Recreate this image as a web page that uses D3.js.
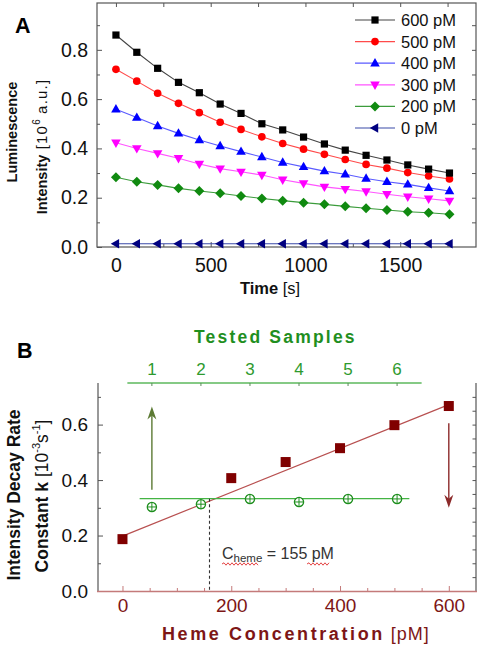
<!DOCTYPE html>
<html><head><meta charset="utf-8">
<script src="https://cdn.jsdelivr.net/npm/d3@7"></script>
<style>
body{margin:0;background:#fff;}
svg{display:block;font-family:"Liberation Sans",Arial,sans-serif;}
</style></head>
<body><svg id="c" width="478" height="645"></svg>
<script>
// ---------- Panel A data ----------
const times = [0,110,220,330,440,550,660,770,880,990,1100,1210,1320,1430,1540,1650,1760];
const seriesNames = ["600 pM","500 pM","400 pM","300 pM","200 pM","0 pM"];
const s600 = [0.86,0.79,0.725,0.668,0.626,0.58,0.542,0.50,0.475,0.446,0.418,0.393,0.372,0.353,0.333,0.316,0.30];
const s500 = [0.721,0.673,0.624,0.583,0.545,0.506,0.477,0.447,0.42,0.397,0.376,0.355,0.335,0.32,0.302,0.288,0.276];
const s400 = [0.559,0.525,0.491,0.461,0.434,0.41,0.387,0.365,0.343,0.325,0.308,0.295,0.278,0.265,0.254,0.24,0.227];
const s300 = [0.423,0.40,0.38,0.36,0.337,0.318,0.305,0.292,0.273,0.258,0.244,0.235,0.225,0.214,0.204,0.196,0.187];
const s200 = [0.283,0.265,0.252,0.238,0.227,0.218,0.207,0.197,0.188,0.18,0.173,0.165,0.157,0.15,0.143,0.139,0.133];
const s0   = [0.013,0.013,0.013,0.013,0.013,0.013,0.013,0.013,0.013,0.013,0.013,0.013,0.013,0.013,0.013,0.013,0.013];
const aXTicks = [0,500,1000,1500];
const aYTicks = [0.0,0.2,0.4,0.6,0.8];

// ---------- Panel B data ----------
const hemeConc = [0,200,300,400,500,600];
const hemeK = [0.187,0.407,0.465,0.515,0.598,0.667];
const fitLine = [[0,0.198],[600,0.672]];
const samples = [1,2,3,4,5,6];
const sampleK = [0.303,0.313,0.332,0.321,0.332,0.332];
const sampleLevel = 0.333;
const sampleLevelSpan = [0.75,6.25];
const cHemeLine = 160;
const cHemeLabel = "155 pM";
const bXTicks = [0,200,400,600];
const bYTicks = [0.0,0.2,0.4,0.6];
const arrowUp = {sample:1, from:0.365, to:0.665};
const arrowDown = {heme:600, from:0.605, to:0.30};

const svg = d3.select("#c");

// ================= PANEL A =================
const ax = d3.scaleLinear().domain([-100,1900]).range([97,476]);
const ay = d3.scaleLinear().domain([0,0.99]).range([247,3]);
const A = svg.append("g");
const frameCol = "#555";

function styleAxis(g,col){
  g.select(".domain").remove();
  g.selectAll(".tick line").attr("stroke",col).attr("stroke-width",1);
}
// ticks
A.append("g").attr("transform","translate(97,0)")
 .call(d3.axisLeft(ay).tickValues(aYTicks).tickSize(-5).tickPadding(9).tickFormat(d3.format(".1f")))
 .call(g=>{styleAxis(g,frameCol);g.selectAll("text").attr("font-size",19.5).attr("fill","#111").attr("font-family","Liberation Sans, Arial");});
A.append("g").attr("transform","translate(97,0)")
 .call(d3.axisLeft(ay).tickValues([0.1,0.3,0.5,0.7,0.9]).tickSize(-3).tickFormat(""))
 .call(g=>styleAxis(g,frameCol));
A.append("g").attr("transform","translate(476,0)")
 .call(d3.axisRight(ay).tickValues([0.1,0.2,0.3,0.4,0.5,0.6,0.7,0.8,0.9]).tickSize(-4).tickFormat(""))
 .call(g=>styleAxis(g,frameCol));
A.append("g").attr("transform","translate(0,247)")
 .call(d3.axisBottom(ax).tickValues(aXTicks).tickSize(-5).tickPadding(11).tickFormat(d3.format("d")))
 .call(g=>{styleAxis(g,frameCol);g.selectAll("text").attr("font-size",19.5).attr("fill","#111").attr("font-family","Liberation Sans, Arial");});
A.append("g").attr("transform","translate(0,247)")
 .call(d3.axisBottom(ax).tickValues([250,750,1250,1750]).tickSize(-3).tickFormat(""))
 .call(g=>styleAxis(g,frameCol));
A.append("g").attr("transform","translate(0,3)")
 .call(d3.axisTop(ax).tickValues([0,250,500,750,1000,1250,1500,1750]).tickSize(-4).tickFormat(""))
 .call(g=>styleAxis(g,frameCol));
A.append("rect").attr("x",97).attr("y",3).attr("width",379).attr("height",244)
 .attr("fill","none").attr("stroke",frameCol).attr("stroke-width",1.2);

// marker shapes
function markerPath(type){
  switch(type){
    case "square": return "M-3.6,-3.6H3.6V3.6H-3.6Z";
    case "circle": return d3.symbol(d3.symbolCircle,46)();
    case "triUp": return "M0,-5.2L4.8,3.2L-4.8,3.2Z";
    case "triDown": return "M0,5.2L4.8,-3.2L-4.8,-3.2Z";
    case "diamond": return "M0,-5L5,0L0,5L-5,0Z";
    case "triLeft": return "M-5.2,0L3.2,-4.8L3.2,4.8Z";
  }
}
const seriesData = [s600,s500,s400,s300,s200,s0];
const markCols = ["#000000","#ff0000","#0000ff","#ff00ff","#108a10","#000080"];
const lineCols = ["#444444","#ff4a4a","#5a5aff","#ff55ff","#3c9c3c","#3a4aa8"];
const shapes = ["square","circle","triUp","triDown","diamond","triLeft"];

const line = d3.line().x(d=>ax(d[0])).y(d=>ay(d[1]));
seriesData.slice().reverse().forEach((vals,ri)=>{
  const i = seriesData.length-1-ri;
  const pts = times.map((t,j)=>[t,vals[j]]);
  A.append("path").attr("d",line(pts)).attr("fill","none").attr("stroke",lineCols[i]).attr("stroke-width",1.1);
  A.append("g").selectAll("path").data(pts).join("path")
   .attr("transform",d=>`translate(${ax(d[0])},${ay(d[1])})`)
   .attr("d",markerPath(shapes[i])).attr("fill",markCols[i]);
});

// legend
const leg = A.append("g");
seriesNames.forEach((n,i)=>{
  const y = 20 + i*21.6;
  leg.append("line").attr("x1",355).attr("x2",395).attr("y1",y).attr("y2",y).attr("stroke",lineCols[i]).attr("stroke-width",1.2);
  leg.append("path").attr("transform",`translate(375,${y})`).attr("d",markerPath(shapes[i])).attr("fill",markCols[i]);
  leg.append("text").attr("x",401).attr("y",y+6).attr("font-size",16.5).attr("fill","#111").text(n);
});

// labels A
svg.append("text").attr("x",15).attr("y",33).attr("font-size",21.5).attr("font-weight","bold").text("A");
svg.append("text").attr("transform","translate(17,132) rotate(-90)").attr("text-anchor","middle")
  .attr("font-size",14.5).attr("font-weight","bold").attr("fill","#111").text("Luminescence");
{
  const t = svg.append("text").attr("transform","translate(47,146.5) rotate(-90)").attr("text-anchor","middle").attr("fill","#111");
  t.append("tspan").attr("font-size",14.5).attr("font-weight","bold").text("Intensity");
  t.append("tspan").attr("font-size",15).attr("letter-spacing",1.2).text(" [10");
  t.append("tspan").attr("font-size",10).attr("dy",-7).text("6");
  t.append("tspan").attr("font-size",15).attr("letter-spacing",1.2).attr("dy",7).text(" a.u.]");
}
{
  const t = svg.append("text").attr("x",270).attr("y",294).attr("text-anchor","middle").attr("fill","#111").attr("font-size",16.5);
  t.append("tspan").attr("font-weight","bold").text("Time");
  t.append("tspan").text(" [s]");
}

// ================= PANEL B =================
const bx = d3.scaleLinear().domain([-45,650]).range([98,476]);
const by = d3.scaleLinear().domain([0,0.75]).range([591,383]);
const bs = d3.scaleLinear().domain([0.5,6.5]).range([bx(9),bx(550)]);
const B = svg.append("g");
const redAxis = "#c47a7a";
const darkRed = "#7d1616";
const green = "#1f8f1f";

B.append("g").attr("transform","translate(98,0)")
 .call(d3.axisLeft(by).tickValues(bYTicks).tickSize(-5).tickPadding(10).tickFormat(d3.format(".1f")))
 .call(g=>{styleAxis(g,frameCol);g.selectAll("text").attr("font-size",19).attr("fill","#111").attr("font-family","Liberation Sans, Arial");});
B.append("g").attr("transform","translate(98,0)")
 .call(d3.axisLeft(by).tickValues([0.1,0.3,0.5,0.7]).tickSize(-3).tickFormat(""))
 .call(g=>styleAxis(g,frameCol));
B.append("g").attr("transform","translate(476,0)")
 .call(d3.axisRight(by).tickValues(d3.range(1,15).map(i=>i*0.05)).tickSize(-3.5).tickFormat(""))
 .call(g=>styleAxis(g,frameCol));
B.append("g").attr("transform","translate(0,591)")
 .call(d3.axisBottom(bx).tickValues(bXTicks).tickSize(-5).tickPadding(8).tickFormat(d3.format("d")))
 .call(g=>{styleAxis(g,redAxis);g.selectAll("text").attr("font-size",19).attr("fill",darkRed).attr("font-family","Liberation Sans, Arial");});
B.append("g").attr("transform","translate(0,591)")
 .call(d3.axisBottom(bx).tickValues([50,100,150,250,300,350,450,500,550]).tickSize(-3).tickFormat(""))
 .call(g=>styleAxis(g,redAxis));
B.append("line").attr("x1",98).attr("x2",98).attr("y1",383).attr("y2",591).attr("stroke",frameCol).attr("stroke-width",1.2);
B.append("line").attr("x1",476).attr("x2",476).attr("y1",383).attr("y2",591).attr("stroke",frameCol).attr("stroke-width",1.2);
B.append("line").attr("x1",97).attr("x2",477).attr("y1",591.5).attr("y2",591.5).attr("stroke",redAxis).attr("stroke-width",1.5);

// top samples axis
B.append("line").attr("x1",bs(0.5)).attr("x2",bs(6.5)).attr("y1",383).attr("y2",383).attr("stroke","#5cb85c").attr("stroke-width",1.6);
B.append("g").selectAll("line").data(samples).join("line")
 .attr("x1",d=>bs(d)).attr("x2",d=>bs(d)).attr("y1",383).attr("y2",386).attr("stroke","#5a8a5a");
B.append("g").selectAll("text").data(samples).join("text")
 .attr("x",d=>bs(d)).attr("y",375).attr("text-anchor","middle").attr("font-size",17).attr("fill","#2e9a2e").text(d=>d);
B.append("text").attr("x",194).attr("y",343).attr("font-size",17.5).attr("font-weight","bold")
 .attr("letter-spacing",2.2).attr("fill",green).text("Tested Samples");

// fit line & red squares
B.append("line").attr("x1",bx(fitLine[0][0])).attr("y1",by(fitLine[0][1]))
 .attr("x2",bx(fitLine[1][0])).attr("y2",by(fitLine[1][1])).attr("stroke","#b85050").attr("stroke-width",1.2);
B.append("g").selectAll("rect").data(hemeConc).join("rect")
 .attr("x",(d)=>bx(d)-5).attr("y",(d,i)=>by(hemeK[i])-5).attr("width",10).attr("height",10).attr("fill","#800000");

// green level & sample circles
B.append("line").attr("x1",bs(sampleLevelSpan[0])).attr("x2",bs(sampleLevelSpan[1]))
 .attr("y1",by(sampleLevel)).attr("y2",by(sampleLevel)).attr("stroke","#44b444").attr("stroke-width",1.3);
const sc = B.append("g").selectAll("g").data(samples).join("g")
 .attr("transform",(d,i)=>`translate(${bs(d)},${by(sampleK[i])})`);
sc.append("circle").attr("r",4.6).attr("fill","#fff").attr("stroke",green).attr("stroke-width",1.3);
sc.append("path").attr("d","M-4.6,0H4.6M0,-4.6V4.6").attr("stroke",green).attr("stroke-width",1);

// dashed C_heme line
B.append("line").attr("x1",bx(cHemeLine)).attr("x2",bx(cHemeLine)).attr("y1",by(sampleLevel)).attr("y2",by(0))
 .attr("stroke","#333").attr("stroke-width",1.1).attr("stroke-dasharray","3,2.5");

// arrows
function arrow(x,y1,y2,col){
  const dir = y2<y1 ? 1 : -1; // 1 = pointing up
  B.append("line").attr("x1",x).attr("x2",x).attr("y1",y1).attr("y2",y2+dir*8).attr("stroke",col).attr("stroke-width",1.4);
  B.append("path").attr("d",`M${x},${y2}L${x-4.5},${y2+dir*13}L${x},${y2+dir*9}L${x+4.5},${y2+dir*13}Z`).attr("fill",col);
}
arrow(bs(arrowUp.sample),by(arrowUp.from),by(arrowUp.to),"#5c7a34");
arrow(bx(arrowDown.heme),by(arrowDown.from),by(arrowDown.to),"#8c2a2a");

// C_heme label
{
  const t = B.append("text").attr("x",222).attr("y",559).attr("fill","#333").attr("font-size",16);
  t.append("tspan").text("C");
  t.append("tspan").attr("font-size",11.5).attr("dy",3).text("heme");
  t.append("tspan").attr("dy",-3).text(" = "+cHemeLabel);
  function wavy(x1,x2,y){
    let d=`M${x1},${y}`; let up=true;
    for(let x=x1+2;x<=x2;x+=2){ d+=`L${x},${y+(up?-1.2:1.2)}`; up=!up; }
    B.append("path").attr("d",d).attr("fill","none").attr("stroke","#e03030").attr("stroke-width",0.9);
  }
  wavy(222,258,564);
  wavy(307,330,564);
}

// labels B
svg.append("text").attr("x",17).attr("y",358).attr("font-size",21.5).attr("font-weight","bold").text("B");
svg.append("text").attr("transform","translate(20,495) rotate(-90)").attr("text-anchor","middle")
  .attr("font-size",17.5).attr("font-weight","bold").attr("fill","#111").text("Intensity Decay Rate");
{
  const t = svg.append("text").attr("transform","translate(48,496) rotate(-90)").attr("text-anchor","middle").attr("fill","#111");
  t.append("tspan").attr("font-size",17.5).attr("font-weight","bold").text("Constant k");
  t.append("tspan").attr("font-size",17.5).text(" [10");
  t.append("tspan").attr("font-size",11).attr("dy",-8).text("-3");
  t.append("tspan").attr("font-size",17.5).attr("dy",8).text("s");
  t.append("tspan").attr("font-size",11).attr("dy",-8).text("-1");
  t.append("tspan").attr("font-size",17.5).attr("dy",8).text("]");
}
{
  const t = svg.append("text").attr("x",162).attr("y",640).attr("fill",darkRed).attr("font-size",18);
  t.append("tspan").attr("font-weight","bold").attr("letter-spacing",2.6).text("Heme Concentration");
  t.append("tspan").attr("letter-spacing",1).text(" [pM]");
}
</script></body></html>
